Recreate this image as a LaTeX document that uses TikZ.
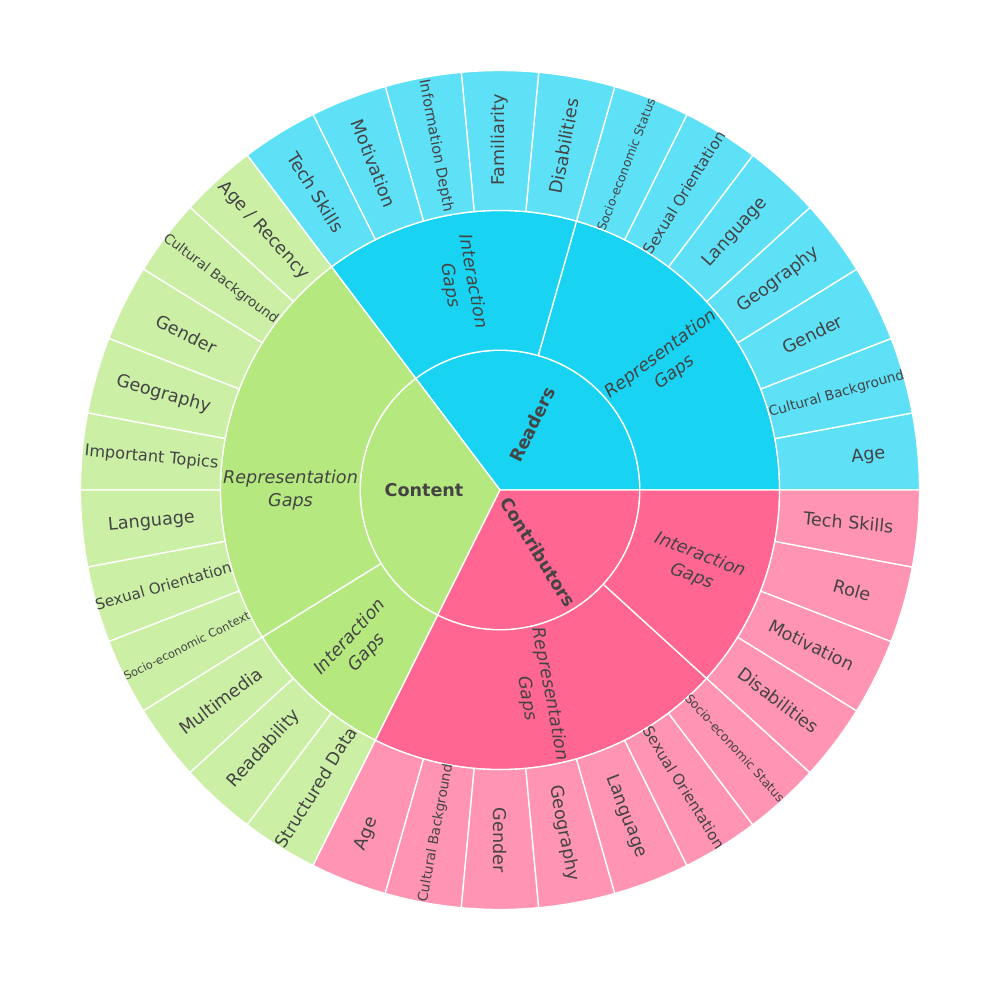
\documentclass[tikz,border=0pt]{standalone}
\usepackage{fontspec}
\setmainfont{DejaVu Sans}
\definecolor{rdin}{HTML}{19D3F3}
\definecolor{rdlf}{HTML}{5EE0F7}
\definecolor{ctin}{HTML}{B6E880}
\definecolor{ctlf}{HTML}{CCEFA6}
\definecolor{coin}{HTML}{FF6692}
\definecolor{colf}{HTML}{FF94B3}
\definecolor{txt}{HTML}{444444}
\newcommand\ringsector[5]{% color, a0, a1, r0, r1
  \filldraw[fill=#1, draw=white, line width=1pt, line join=round]
    (#2:#4) arc[start angle=#2, end angle=#3, radius=#4]
    -- (#3:#5) arc[start angle=#3, end angle=#2, radius=#5] -- cycle;}
\newcommand\pieslice[4]{% color, a0, a1, r
  \filldraw[fill=#1, draw=white, line width=1pt, line join=round]
    (0,0) -- (#2:#4) arc[start angle=#2, end angle=#3, radius=#4] -- cycle;}
\newcommand\leaflab[5]{% name, k, r, size, text
  \pgfmathsetmacro\mymid{(#2+0.5)*360/34}%
  \pgfmathsetmacro\myrot{(\mymid>90.5 && \mymid<269.5) ? \mymid-180 : \mymid}%
  \node[lab, font=\fontsize{#4}{#4}\selectfont, rotate=\myrot] (#1) at (\mymid:#3) {#5};}
\begin{document}
\begin{tikzpicture}[x=0.75pt,y=0.75pt,
  lab/.style={text=txt, inner sep=0pt, align=center},
  midlab/.style={lab, font=\fontsize{13.2}{17.25}\selectfont\itshape},
  inlab/.style={lab, font=\fontsize{13.2}{17.25}\selectfont\bfseries}]
\useasboundingbox (-500,-510) rectangle (500,490);
\def\RA{139.8}\def\RB{279.6}\def\RC{419.5}
% inner ring
\pieslice{rdin}{0}{127.0588}{\RA}
\pieslice{ctin}{127.0588}{243.5294}{\RA}
\pieslice{coin}{243.5294}{360}{\RA}
% middle ring
\ringsector{rdin}{0}{74.1176}{\RA}{\RB}
\ringsector{rdin}{74.1176}{127.0588}{\RA}{\RB}
\ringsector{ctin}{127.0588}{211.7647}{\RA}{\RB}
\ringsector{ctin}{211.7647}{243.5294}{\RA}{\RB}
\ringsector{coin}{243.5294}{317.6471}{\RA}{\RB}
\ringsector{coin}{317.6471}{360}{\RA}{\RB}
% outer ring
\foreach \k in {0,...,33}{
  \pgfmathsetmacro\aa{\k*360/34}
  \pgfmathsetmacro\ab{(\k+1)*360/34}
  \ifnum\k<12 \def\cc{rdlf}\else\ifnum\k<23 \def\cc{ctlf}\else\def\cc{colf}\fi\fi
  \ringsector{\cc}{\aa}{\ab}{\RB}{\RC}
}
% inner labels
\node[inlab, rotate=63.53] (readers) at (63.53:73) {Readers};
\node[inlab] (content) at (-76,0) {Content};
\node[inlab, rotate=-58.24] (contrib) at (301.76:73) {Contributors};
% middle labels
\node[midlab, rotate=37.06] (rrep) at (37.06:210) {Representation\\Gaps};
\node[midlab, rotate=-79.41] (rint) at (100.59:210) {Interaction\\Gaps};
\node[midlab] (crep) at (-209.5,0) {Representation\\Gaps};
\node[midlab, rotate=47.65] (cint) at (227.65:210) {Interaction\\Gaps};
\node[midlab, rotate=-79.41] (krep) at (280.59:210) {Representation\\Gaps};
\node[midlab, rotate=-21.18] (kint) at (338.82:210) {Interaction\\Gaps};
% outer labels: Readers
\leaflab{l0}{0}{370}{13.2}{Age}
\leaflab{l1}{1}{350}{10.25}{Cultural Background}
\leaflab{l2}{2}{349}{13.2}{Gender}
\leaflab{l3}{3}{349}{13.2}{Geography}
\leaflab{l4}{4}{349}{13.2}{Language}
\leaflab{l5}{5}{350}{11.35}{Sexual Orientation}
\leaflab{l6}{6}{349}{9.25}{Socio-economic Status}
\leaflab{l7}{7}{350}{13.2}{Disabilities}
\leaflab{l8}{8}{350}{13.2}{Familiarity}
\leaflab{l9}{9}{350}{11.0}{Information Depth}
\leaflab{l10}{10}{350}{13.2}{Motivation}
\leaflab{l11}{11}{350}{13.2}{Tech Skills}
% Content
\leaflab{l12}{12}{351}{13.2}{Age / Recency}
\leaflab{l13}{13}{350}{10.25}{Cultural Background}
\leaflab{l14}{14}{350}{13.2}{Gender}
\leaflab{l15}{15}{350}{13.2}{Geography}
\leaflab{l16}{16}{350}{12.1}{Important Topics}
\leaflab{l17}{17}{350}{13.2}{Language}
\leaflab{l18}{18}{350}{11.35}{Sexual Orientation}
\leaflab{l19}{19}{350}{8.6}{Socio-economic Context}
\leaflab{l20}{20}{350}{13.2}{Multimedia}
\leaflab{l21}{21}{350}{13.2}{Readability}
\leaflab{l22}{22}{350}{13.0}{Structured Data}
% Contributors
\leaflab{l23}{23}{369}{13.2}{Age}
\leaflab{l24}{24}{349}{10.25}{Cultural Background}
\leaflab{l25}{25}{350}{13.2}{Gender}
\leaflab{l26}{26}{349}{13.2}{Geography}
\leaflab{l27}{27}{350}{13.2}{Language}
\leaflab{l28}{28}{350}{11.35}{Sexual Orientation}
\leaflab{l29}{29}{349}{9.25}{Socio-economic Status}
\leaflab{l30}{30}{349}{13.2}{Disabilities}
\leaflab{l31}{31}{348}{13.2}{Motivation}
\leaflab{l32}{32}{366}{13.2}{Role}
\leaflab{l33}{33}{350}{13.2}{Tech Skills}
\end{tikzpicture}
\end{document}
